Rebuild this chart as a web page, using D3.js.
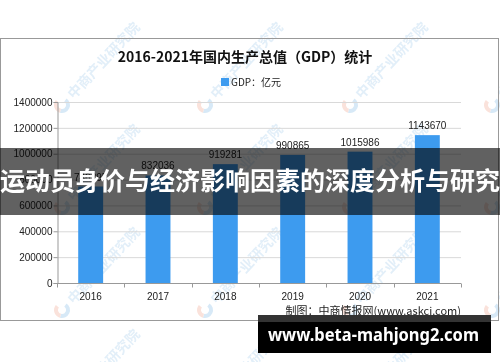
<!DOCTYPE html>
<html>
<head>
<meta charset="utf-8">
<script src="https://cdn.jsdelivr.net/npm/d3@7"></script>
<style>
  body { margin: 0; background: #fff; }
  svg { display: block; }
</style>
</head>
<body>
<div id="chart"></div>
<script>
// data
var years = ["2016", "2017", "2018", "2019", "2020", "2021"];
var gdp = [746395, 832036, 919281, 990865, 1015986, 1143670];
var yTicks = [0, 200000, 400000, 600000, 800000, 1000000, 1200000, 1400000];

let svgWidth = 500;
let svgHeight = 362;

let plotLeft = 57, plotRight = 461, plotTop = 102, plotBottom = 283;

var svg = d3.select("#chart")
  .append("svg")
  .attr("width", svgWidth)
  .attr("height", svgHeight);

svg.append("rect")
  .attr("width", svgWidth).attr("height", svgHeight)
  .attr("fill", "#fff");

// scales
var xscale = d3.scaleBand()
  .domain(years)
  .range([plotLeft, plotRight]);

var yscale = d3.scaleLinear()
  .domain([0, 1400000])
  .range([plotBottom, plotTop]);

// watermark
var wm = svg.append("g").attr("opacity", 0.4);
var wmX = [-80, 62, 205, 350, 492];
var wmY = [105, 207, 310, 412];
wmX.forEach(function (x) {
  wmY.forEach(function (y) {
    var g = wm.append("g").attr("transform", "translate(" + x + "," + y + ")");
    g.append("path")
      .attr("d", d3.arc()({innerRadius: 4, outerRadius: 8, startAngle: 0.6, endAngle: 3.4}))
      .attr("fill", "#9cc8ea");
    g.append("path")
      .attr("d", d3.arc()({innerRadius: 4, outerRadius: 8, startAngle: 3.4, endAngle: 5.4}))
      .attr("fill", "#f3b7a5");
    g.append("text")
      .attr("transform", "rotate(-47) translate(12,5)")
      .attr("font-family", "Noto Sans CJK SC")
      .attr("font-size", 14)
      .attr("font-weight", "bold")
      .attr("fill", "#b7d6ef")
      .text("中商产业研究院");
  });
});

// frame
svg.append("rect")
  .attr("x", 0.5).attr("y", 38.5)
  .attr("width", 498).attr("height", 282)
  .attr("fill", "none")
  .attr("stroke", "#999");

// title
svg.append("text")
  .attr("x", 245).attr("y", 62)
  .attr("text-anchor", "middle")
  .attr("font-family", "Noto Sans CJK SC")
  .attr("font-size", 14)
  .attr("font-weight", "bold")
  .attr("fill", "#111")
  .text("2016-2021年国内生产总值（GDP）统计");

// legend
svg.append("rect")
  .attr("x", 221).attr("y", 78)
  .attr("width", 8).attr("height", 8)
  .attr("fill", "#3d9bef");
svg.append("text")
  .attr("x", 231).attr("y", 86)
  .attr("font-family", "Noto Sans CJK SC")
  .attr("font-size", 10)
  .attr("fill", "#222")
  .text("GDP：亿元");

// gridlines
svg.append("g")
  .selectAll("line")
  .data(yTicks.slice(1))
  .enter()
  .append("line")
  .attr("x1", plotLeft).attr("x2", plotRight)
  .attr("y1", d => yscale(d) + 0.5).attr("y2", d => yscale(d) + 0.5)
  .attr("stroke", "#d9d9d9");

// bars
var barW = xscale.bandwidth() * 0.37;
svg.append("g")
  .selectAll("rect")
  .data(gdp)
  .enter()
  .append("rect")
  .attr("x", (d, i) => xscale(years[i]) + xscale.bandwidth() / 2 - barW / 2)
  .attr("y", d => yscale(d))
  .attr("width", barW)
  .attr("height", d => plotBottom - yscale(d))
  .attr("fill", "#3d9bef");

// bar labels
svg.append("g")
  .selectAll("text")
  .data(gdp)
  .enter()
  .append("text")
  .attr("x", (d, i) => xscale(years[i]) + xscale.bandwidth() / 2)
  .attr("y", d => yscale(d) - 6)
  .attr("text-anchor", "middle")
  .attr("font-family", "Liberation Sans")
  .attr("font-size", 10)
  .attr("fill", "#222")
  .text(d => d);

// y axis
var y_axis = d3.axisLeft(yscale)
  .tickValues(yTicks)
  .tickSize(4)
  .tickFormat(d => d);
var yg = svg.append("g")
  .attr("transform", "translate(" + (plotLeft + 0.5) + ",0)")
  .call(y_axis);
yg.select(".domain").attr("stroke", "#999");
yg.selectAll(".tick line").attr("stroke", "#999");
yg.selectAll(".tick text")
  .attr("font-family", "Liberation Sans")
  .attr("font-size", 10)
  .attr("fill", "#222")
  .attr("x", -5);

// x axis
var xg = svg.append("g")
  .attr("transform", "translate(0," + (plotBottom + 0.5) + ")");
xg.append("line")
  .attr("x1", plotLeft).attr("x2", plotRight)
  .attr("stroke", "#999");
xg.selectAll("line.tk")
  .data(years.concat(["end"]))
  .enter()
  .append("line")
  .attr("class", "tk")
  .attr("x1", (d, i) => Math.round(plotLeft + i * xscale.step()) + 0.5)
  .attr("x2", (d, i) => Math.round(plotLeft + i * xscale.step()) + 0.5)
  .attr("y1", 0).attr("y2", 4)
  .attr("stroke", "#999");
xg.selectAll("text")
  .data(years)
  .enter()
  .append("text")
  .attr("x", d => xscale(d) + xscale.bandwidth() / 2)
  .attr("y", 16)
  .attr("text-anchor", "middle")
  .attr("font-family", "Liberation Sans")
  .attr("font-size", 10)
  .attr("fill", "#222")
  .text(d => d);

// source
svg.append("text")
  .attr("x", 461).attr("y", 315)
  .attr("text-anchor", "end")
  .attr("font-family", "Noto Sans CJK SC")
  .attr("font-size", 11)
  .attr("fill", "#222")
  .text("制图：中商情报网(www.askci.com)");

// overlay band
svg.append("rect")
  .attr("x", 0).attr("y", 148)
  .attr("width", svgWidth).attr("height", 67)
  .attr("fill", "#000")
  .attr("opacity", 0.62);
svg.append("text")
  .attr("x", 250).attr("y", 190)
  .attr("text-anchor", "middle")
  .attr("font-family", "Noto Sans CJK SC")
  .attr("font-size", 25)
  .attr("font-weight", "bold")
  .attr("fill", "#fff")
  .text("运动员身价与经济影响因素的深度分析与研究");

// bottom url box
svg.append("rect")
  .attr("x", 258).attr("y", 315)
  .attr("width", 233).attr("height", 38)
  .attr("fill", "#000");
svg.append("rect")
  .attr("x", 258).attr("y", 315)
  .attr("width", 233).attr("height", 7)
  .attr("fill", "#333");
svg.append("text")
  .attr("x", 268).attr("y", 341)
  .attr("font-family", "Noto Sans")
  .attr("font-size", 18)
  .attr("font-weight", "bold")
  .attr("fill", "#fff")
  .attr("textLength", 211)
  .attr("lengthAdjust", "spacingAndGlyphs")
  .text("www.beta-mahjong2.com");
</script>
</body>
</html>
